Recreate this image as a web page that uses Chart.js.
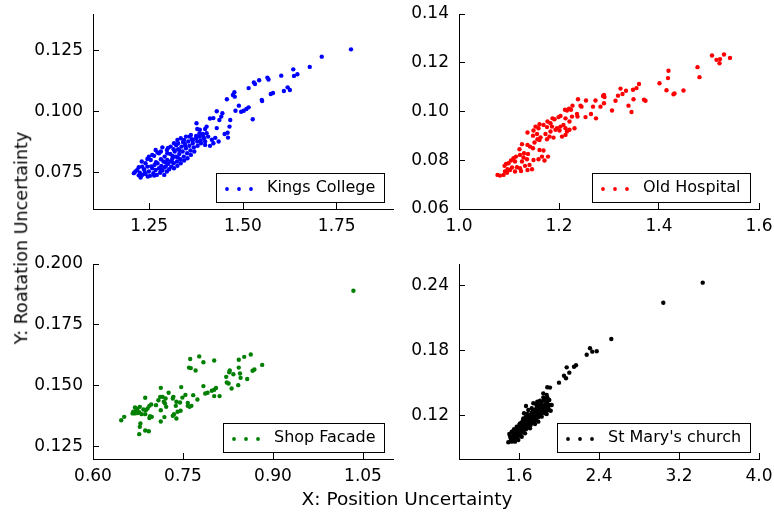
<!DOCTYPE html>
<html lang="en">
<head>
<meta charset="UTF-8">
<title>Position vs Rotation Uncertainty</title>
<style>
  body { margin: 0; background: #fff; font-family: "DejaVu Sans", sans-serif; }
  #wrap { position: relative; width: 774px; height: 512px; background: #fff; }
  #wrap canvas { position: absolute; left: 0; top: 0; }
  .axis-title { position: absolute; color: #000; white-space: nowrap; line-height: 1; }
  #xTitle { left: 407px; top: 499px; font-size: 18.5px; transform: translate(-50%, -50%); }
  #yTitle { left: 22px; top: 238px; font-size: 17.6px; transform: translate(-50%, -50%) rotate(-90deg); }
</style>
</head>
<body>
<div id="wrap">
  <canvas id="kings" width="774" height="512"></canvas>
  <canvas id="hospital" width="774" height="512"></canvas>
  <canvas id="shop" width="774" height="512"></canvas>
  <canvas id="church" width="774" height="512"></canvas>
  <div class="axis-title" id="xTitle">X: Position Uncertainty</div>
  <div class="axis-title" id="yTitle">Y: Roatation Uncertainty</div>
</div>
<script src="https://cdn.jsdelivr.net/npm/chart.js"></script>
<script>
// series labels
const labels = ['Kings College', 'Old Hospital', 'Shop Facade', "St Mary's church"];

// [position, rotation] pairs
const kingsCollege = [
  [1.788,0.1255],[1.710,0.1225],[1.678,0.1183],[1.634,0.1173],[1.645,0.1153],[1.636,0.1146],[1.602,0.1147],
  [1.565,0.1139],[1.568,0.1131],[1.543,0.1128],[1.529,0.1119],[1.532,0.1113],[1.515,0.1096],[1.619,0.1099],
  [1.625,0.1088],[1.609,0.1084],[1.580,0.1076],[1.574,0.1072],[1.550,0.1047],[1.551,0.1043],[1.477,0.1079],
  [1.473,0.1068],[1.478,0.1061],[1.457,0.1050],[1.489,0.1024],[1.480,0.1003],[1.515,0.1017],[1.509,0.1010],
  [1.502,0.1003],[1.495,0.0999],[1.526,0.0968],[1.430,0.1001],[1.445,0.0993],[1.442,0.0979],[1.437,0.0965],
  [1.412,0.0971],[1.421,0.0973],[1.466,0.0965],[1.464,0.0938],[1.459,0.0913],[1.451,0.0908],[1.460,0.0893],
  [1.376,0.0952],[1.403,0.0938],[1.399,0.0928],[1.385,0.0925],[1.378,0.0928],[1.430,0.0932],[1.403,0.0911],
  [1.394,0.0897],[1.407,0.0897],[1.426,0.0892],[1.417,0.0884],[1.435,0.0877],[1.421,0.0870],[1.399,0.0863],
  [1.412,0.0859],
  [1.209,0.0747],[1.218,0.0760],[1.225,0.0749],[1.227,0.0729],[1.236,0.0763],[1.240,0.0744],[1.245,0.0774],
  [1.249,0.0754],[1.252,0.0736],[1.258,0.0767],[1.261,0.0747],[1.264,0.0781],[1.267,0.0760],[1.270,0.0740],
  [1.272,0.0788],[1.276,0.0767],[1.279,0.0749],[1.281,0.0804],[1.282,0.0777],[1.285,0.0758],[1.288,0.0795],
  [1.290,0.0740],[1.291,0.0815],[1.294,0.0774],[1.297,0.0754],[1.298,0.0801],[1.300,0.0785],[1.303,0.0763],
  [1.306,0.0826],[1.307,0.0795],[1.309,0.0774],[1.312,0.0808],[1.315,0.0788],[1.316,0.0767],[1.318,0.0836],
  [1.321,0.0815],[1.324,0.0795],[1.325,0.0777],[1.327,0.0845],[1.330,0.0826],[1.333,0.0804],[1.334,0.0788],
  [1.336,0.0856],[1.339,0.0836],[1.342,0.0815],[1.343,0.0799],[1.345,0.0867],[1.348,0.0849],[1.351,0.0829],
  [1.352,0.0808],[1.354,0.0877],[1.357,0.0859],[1.360,0.0840],[1.361,0.0822],[1.364,0.0886],[1.366,0.0870],
  [1.369,0.0853],[1.370,0.0836],[1.375,0.0890],[1.378,0.0877],[1.379,0.0859],[1.384,0.0897],[1.387,0.0881],
  [1.388,0.0870],[1.393,0.0908],[1.396,0.0890],[1.399,0.0877],[1.361,0.0904],[1.348,0.0897],[1.334,0.0890],
  [1.325,0.0883],[1.316,0.0870],[1.307,0.0856],[1.297,0.0842],[1.285,0.0853],[1.276,0.0829],[1.263,0.0818],
  [1.254,0.0801],[1.249,0.0815],[1.240,0.0788],[1.231,0.0774],[1.222,0.0771],[1.213,0.0754],[1.231,0.0740],
  [1.246,0.0733],[1.263,0.0737],[1.281,0.0760],[1.294,0.0791],[1.312,0.0818],[1.330,0.0842],[1.346,0.0859],
  [1.366,0.0881],[1.384,0.0911],[1.267,0.0842],[1.281,0.0836],[1.298,0.0829],[1.315,0.0845],[1.327,0.0870],
  [1.343,0.0883],[1.357,0.0897],[1.375,0.0900],
  [1.230,0.0795],[1.245,0.0805],[1.258,0.0822],[1.272,0.0832],[1.300,0.0850],[1.322,0.0862],[1.340,0.0875],
  [1.222,0.0738],[1.238,0.0752],[1.255,0.0775],[1.268,0.0792],[1.290,0.0770],[1.310,0.0798],[1.326,0.0812]
];

const oldHospital = [
  [1.506,0.1230],[1.515,0.1212],[1.522,0.1215],[1.521,0.1198],[1.530,0.1234],[1.542,0.1220],[1.477,0.1182],
  [1.481,0.1141],[1.419,0.1167],[1.418,0.1137],[1.401,0.1116],[1.415,0.1087],[1.431,0.1074],[1.429,0.1071],
  [1.449,0.1086],[1.360,0.1113],[1.355,0.1096],[1.348,0.1089],[1.334,0.1085],[1.323,0.1094],[1.327,0.1072],
  [1.318,0.1065],[1.349,0.1050],[1.370,0.1048],[1.373,0.1044],[1.339,0.1024],[1.345,0.0998],[1.313,0.1044],
  [1.306,0.1004],[1.290,0.1068],[1.291,0.1059],[1.288,0.1064],[1.273,0.1045],[1.290,0.1034],[1.283,0.1020],
  [1.268,0.1020],[1.264,0.0990],[1.274,0.0972],[1.254,0.1045],[1.245,0.1020],[1.243,0.1024],[1.238,0.1050],
  [1.227,0.1024],[1.220,0.1011],[1.224,0.1007],[1.216,0.1004],[1.212,0.1007],[1.253,0.0977],[1.236,0.0990],
  [1.237,0.0979],[1.226,0.0979],[1.221,0.0959],[1.213,0.0972],[1.203,0.0982],[1.199,0.0977],[1.191,0.0968],
  [1.187,0.0972],[1.183,0.0952],[1.177,0.0959],[1.209,0.0945],[1.203,0.0938],[1.213,0.0931],[1.196,0.0931],
  [1.186,0.0938],[1.176,0.0936],[1.169,0.0945],[1.161,0.0948],[1.159,0.0931],[1.153,0.0938],[1.149,0.0922],
  [1.156,0.0908],[1.163,0.0894],[1.173,0.0908],[1.183,0.0918],[1.193,0.0925],[1.201,0.0922],[1.216,0.0918],
  [1.231,0.0931],[1.221,0.0925],[1.206,0.0897],[1.213,0.0904],[1.189,0.0893],[1.181,0.0897],[1.176,0.0886],
  [1.161,0.0883],[1.157,0.0886],[1.148,0.0901],[1.137,0.0914],[1.151,0.0873],[1.142,0.0856],[1.137,0.0863],
  [1.126,0.0866],[1.121,0.0845],[1.122,0.0822],[1.130,0.0829],[1.138,0.0826],[1.148,0.0849],[1.161,0.0842],
  [1.169,0.0840],[1.178,0.0815],[1.166,0.0815],[1.171,0.0799],[1.159,0.0804],[1.149,0.0801],[1.136,0.0804],
  [1.129,0.0811],[1.114,0.0815],[1.109,0.0808],[1.104,0.0799],[1.099,0.0788],[1.094,0.0785],[1.091,0.0777],
  [1.097,0.0763],[1.106,0.0770],[1.116,0.0771],[1.122,0.0767],[1.132,0.0777],[1.141,0.0781],[1.146,0.0763],
  [1.137,0.0760],[1.124,0.0756],[1.112,0.0754],[1.102,0.0760],[1.092,0.0754],[1.089,0.0740],[1.096,0.0749],
  [1.082,0.0737],[1.077,0.0740],[1.112,0.0795],[1.126,0.0795]
];

const shopFacade = [
  [1.034,0.1890],[0.762,0.1610],[0.777,0.1621],[0.784,0.1597],[0.802,0.1604],[0.760,0.1575],[0.763,0.1573],
  [0.771,0.1563],[0.843,0.1607],[0.852,0.1619],[0.863,0.1629],[0.882,0.1586],[0.869,0.1567],[0.866,0.1562],
  [0.843,0.1575],[0.828,0.1563],[0.827,0.1556],[0.834,0.1548],[0.822,0.1537],[0.823,0.1514],[0.826,0.1510],
  [0.845,0.1551],[0.846,0.1533],[0.857,0.1528],[0.842,0.1503],[0.831,0.1489],[0.784,0.1499],[0.787,0.1469],
  [0.791,0.1472],[0.798,0.1480],[0.802,0.1484],[0.805,0.1491],[0.802,0.1458],[0.811,0.1458],[0.774,0.1444],
  [0.767,0.1462],[0.754,0.1463],[0.749,0.1452],[0.747,0.1495],[0.734,0.1455],[0.733,0.1448],[0.726,0.1472],
  [0.721,0.1448],[0.718,0.1435],[0.720,0.1428],[0.722,0.1414],[0.713,0.1492],[0.712,0.1455],[0.716,0.1455],
  [0.709,0.1441],[0.739,0.1435],[0.745,0.1432],[0.738,0.1418],[0.741,0.1394],[0.735,0.1384],[0.733,0.1377],
  [0.746,0.1398],[0.758,0.1430],[0.758,0.1418],[0.761,0.1414],[0.764,0.1418],[0.697,0.1424],[0.694,0.1418],
  [0.687,0.1451],[0.688,0.1400],[0.691,0.1407],[0.684,0.1403],[0.678,0.1414],[0.674,0.1406],[0.670,0.1411],
  [0.672,0.1398],[0.667,0.1394],[0.677,0.1392],[0.681,0.1384],[0.687,0.1384],[0.695,0.1376],[0.698,0.1373],
  [0.694,0.1368],[0.713,0.1400],[0.713,0.1354],[0.719,0.1372],[0.647,0.1359],[0.652,0.1373],[0.678,0.1332],
  [0.679,0.1346],[0.677,0.1302],[0.687,0.1317],[0.693,0.1314],[0.666,0.1387],[0.670,0.1387],[0.674,0.1389],
  [0.705,0.1421],[0.739,0.1366]
];

const stMarysChurch = [
  [3.437,0.2428],[3.043,0.2243],[2.523,0.1908],[2.310,0.1822],[2.333,0.1791],[2.377,0.1794],[2.277,0.1763],
  [2.150,0.1652],[2.170,0.1665],[2.077,0.1646],[2.103,0.1597],[2.050,0.1569],[2.070,0.1545],[2.000,0.1505],
  [1.883,0.1462],[1.910,0.1459],[1.843,0.1406],[1.877,0.1391],[1.927,0.1298],[1.893,0.1252],[1.670,0.1289],
  [1.493,0.0954],[1.503,0.1031],[1.517,0.0991],[1.527,0.1052],[1.537,0.1006],[1.543,0.0975],[1.550,0.1074],
  [1.560,0.1031],[1.570,0.0991],[1.577,0.1098],[1.583,0.1052],[1.593,0.1012],[1.603,0.1114],[1.610,0.1068],
  [1.617,0.1031],[1.627,0.1135],[1.637,0.1092],[1.643,0.1052],[1.650,0.1160],[1.660,0.1114],[1.670,0.1074],
  [1.677,0.1185],[1.683,0.1135],[1.693,0.1098],[1.703,0.1206],[1.710,0.1160],[1.717,0.1114],[1.727,0.1228],
  [1.737,0.1185],[1.743,0.1135],[1.750,0.1252],[1.760,0.1206],[1.770,0.1160],[1.777,0.1277],[1.783,0.1228],
  [1.793,0.1185],[1.803,0.1298],[1.810,0.1252],[1.817,0.1206],[1.827,0.1320],[1.837,0.1277],[1.843,0.1228],
  [1.850,0.1345],[1.860,0.1298],[1.870,0.1252],[1.877,0.1360],[1.883,0.1314],[1.893,0.1268],[1.903,0.1345],
  [1.910,0.1298],[1.527,0.0960],[1.560,0.0960],[1.593,0.0975],[1.577,0.1012],[1.627,0.1006],[1.660,0.1037],
  [1.710,0.1083],[1.760,0.1123],[1.793,0.1145],[1.827,0.1191],[1.860,0.1222],[1.610,0.1129],[1.643,0.1175],
  [1.683,0.1215],[1.727,0.1268],[1.770,0.1308],[1.810,0.1338],[1.843,0.1369],[1.560,0.1068],[1.617,0.1098],
  [1.660,0.1135],[1.703,0.1175],[1.743,0.1215],[1.783,0.1259],[1.827,0.1289],[1.870,0.1329],[1.510,0.1012],
  [1.543,0.1037],[1.577,0.1052],[1.627,0.1062],[1.670,0.1105],[1.710,0.1129],[1.750,0.1166],[1.793,0.1222],
  [1.837,0.1246],[1.593,0.1083],[1.637,0.1123],[1.683,0.1154],[1.727,0.1191],[1.770,0.1228],[1.810,0.1268],
  [1.860,0.1283],[1.877,0.1215],[1.917,0.1246],[1.743,0.1314],[1.783,0.1329],[1.693,0.1252],[1.650,0.1222],
  [1.520,0.0975],[1.553,0.1012],[1.587,0.1037],[1.620,0.1083],[1.653,0.1083],[1.687,0.1123],[1.720,0.1151],
  [1.753,0.1191],[1.787,0.1206],[1.820,0.1237],[1.853,0.1259],[1.887,0.1283],[1.670,0.1191],[1.637,0.1154],
  [1.603,0.1052],[1.570,0.1037],[1.537,0.0969],[1.737,0.1237],[1.803,0.1283],[1.883,0.1369]
];

// axis ranges and tick labels
const kingsX = [1.1, 1.9], kingsXTicks = [1.25, 1.50, 1.75];
const kingsY = [0.06, 0.14], kingsYTicks = [0.075, 0.100, 0.125];
const hospitalX = [1.0, 1.6], hospitalXTicks = [1.0, 1.2, 1.4, 1.6];
const hospitalY = [0.06, 0.14], hospitalYTicks = [0.06, 0.08, 0.10, 0.12, 0.14];
const shopX = [0.6, 1.1], shopXTicks = [0.60, 0.75, 0.90, 1.05];
const shopY = [0.12, 0.20], shopYTicks = [0.125, 0.150, 0.175, 0.200];
const churchX = [1.0, 4.0], churchXTicks = [1.6, 2.4, 3.2, 4.0];
const churchY = [0.08, 0.26], churchYTicks = [0.12, 0.18, 0.24];

const FONT = '"DejaVu Sans", sans-serif';
const Y_W = 60, X_H = 30;

// legend box drawn inside the lower right corner of each panel
const legendBox = {
  id: 'legendBox',
  afterDatasetsDraw(chart) {
    const ctx = chart.ctx, area = chart.chartArea;
    const ds = chart.data.datasets[0];
    ctx.save();
    ctx.font = '16px ' + FONT;
    const w = Math.round(ctx.measureText(ds.label).width) + 60, h = 29;
    const x = Math.round(area.right - 9 - w), y = Math.round(area.bottom - 7 - h);
    ctx.fillStyle = '#fff';
    ctx.fillRect(x, y, w, h);
    ctx.strokeStyle = '#000';
    ctx.lineWidth = 1;
    ctx.strokeRect(x + 0.5, y + 0.5, w, h);
    ctx.fillStyle = ds.backgroundColor;
    for (let i = 0; i < 3; i++) {
      ctx.beginPath();
      ctx.arc(x + 11 + 12 * i, y + 16, 1.9, 0, Math.PI * 2);
      ctx.fill();
    }
    ctx.fillStyle = '#000';
    ctx.textBaseline = 'middle';
    ctx.fillText(ds.label, x + 51, y + 15);
    ctx.restore();
  }
};

function axis(range, ticks, digits, isX) {
  return {
    type: 'linear',
    position: isX ? 'bottom' : 'left',
    min: range[0],
    max: range[1],
    afterBuildTicks: s => { s.ticks = ticks.map(v => ({ value: v })); },
    afterFit: s => {
      if (isX) s.height = X_H; else s.width = Y_W;
      // labels may hang over the plot edges, so don't let them shrink the plot
      s.paddingTop = s.paddingBottom = s.paddingLeft = s.paddingRight = 0;
    },
    grid: { drawOnChartArea: false, tickLength: -6, color: '#000', lineWidth: 1 },
    border: { display: true, color: '#000', width: 1 },
    ticks: {
      color: '#000',
      font: { family: FONT, size: 17 },
      padding: isX ? 13 : 16,
      maxRotation: 0,
      autoSkip: false,
      callback: v => Number(v).toFixed(digits)
    }
  };
}

function panel(id, label, color, points, box, xr, xt, xd, yr, yt, yd) {
  return new Chart(document.getElementById(id), {
    type: 'scatter',
    data: {
      datasets: [{
        label: label,
        data: points.map(p => ({ x: p[0], y: p[1] })),
        backgroundColor: color,
        borderColor: color,
        pointRadius: 2.2,
        pointBorderWidth: 0,
        pointHoverRadius: 2.2
      }]
    },
    options: {
      responsive: false,
      animation: false,
      events: [],
      layout: {
        padding: { left: box[0] - Y_W, top: box[1], right: 774 - box[2], bottom: 512 - box[3] - X_H }
      },
      plugins: { legend: { display: false }, tooltip: { enabled: false } },
      scales: { x: axis(xr, xt, xd, true), y: axis(yr, yt, yd, false) }
    },
    plugins: [legendBox]
  });
}

// plot boxes: left, top, right, bottom
panel('kings', labels[0], '#0000ff', kingsCollege, [93, 14, 393, 209], kingsX, kingsXTicks, 2, kingsY, kingsYTicks, 3);
panel('hospital', labels[1], '#ff0000', oldHospital, [459, 14, 759, 209], hospitalX, hospitalXTicks, 1, hospitalY, hospitalYTicks, 2);
panel('shop', labels[2], '#008000', shopFacade, [93, 264, 393, 459], shopX, shopXTicks, 2, shopY, shopYTicks, 3);
panel('church', labels[3], '#000000', stMarysChurch, [459, 264, 759, 459], churchX, churchXTicks, 1, churchY, churchYTicks, 2);
</script>
</body>
</html>
